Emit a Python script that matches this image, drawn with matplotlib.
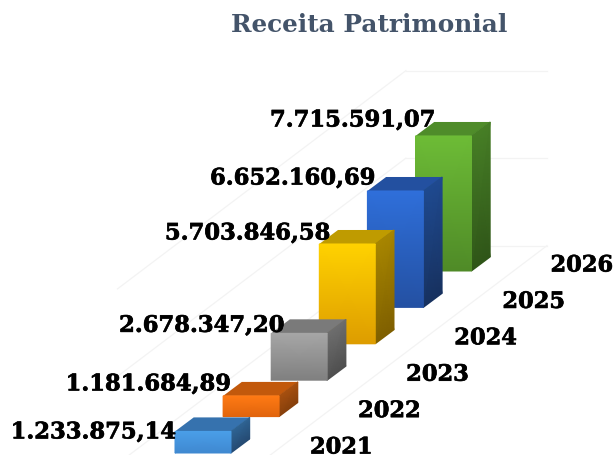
import matplotlib
matplotlib.use('Agg')
import matplotlib.pyplot as plt
import matplotlib.patches as patches
import matplotlib.patheffects as pe
import numpy as np
from matplotlib.colors import LinearSegmentedColormap

# Chart data
years = ['2021', '2022', '2023', '2024', '2025', '2026']
values = [1233875.14, 1181684.89, 2678347.20, 5703846.58, 6652160.69, 7715591.07]
value_labels = ['1.233.875,14', '1.181.684,89', '2.678.347,20', '5.703.846,58', '6.652.160,69', '7.715.591,07']
grid_values = [0, 5000000, 10000000]

# Colours per bar: front top, front bottom, top face, side top, side bottom
front_top = ['#4a9fe8', '#ff7a14', '#a6a6a6', '#ffd200', '#2f6fda', '#6dbc36']
front_bottom = ['#3f88d0', '#e0640c', '#7f7f7f', '#dd9c00', '#2450a2', '#4f8a27']
top_face = ['#3672ae', '#c2590c', '#7a7a7a', '#bf9b00', '#2350a0', '#4f8c2a']
side_top = ['#2f6494', '#a8500f', '#6e6e6e', '#a88600', '#1f4a90', '#477f26']
side_bottom = ['#254a72', '#86400c', '#4f4f4f', '#7f5f00', '#17315f', '#2f5518']

# Fake 3D layout, all in pixels of the 614x455 figure
X0, Y0 = 175, 453
STEP_X, STEP_Y = 48.1, 36.4
BAR_W = 56
DEPTH_X, DEPTH_Y = 18.7, 14
PX_PER_UNIT = 17.5e-6

# Nudges for the value labels, from the front top left corner of each bar
label_dx = [1, 8, 13, 11, 8, 20]
label_dy = [1, -11.5, -7.5, -10.5, -12.5, -15.5]

# Bold text gets a thin outline, the reference font is heavier than DejaVu Serif
heavy = [pe.withStroke(linewidth=0.5, foreground='black')]


def project(pos, value=0, across=0, depth=0):
    x = X0 + STEP_X * pos + BAR_W * across + DEPTH_X * depth
    y = Y0 - STEP_Y * pos - PX_PER_UNIT * value - DEPTH_Y * depth
    return x, y


def gradient_quad(axis, low_a, low_b, high_b, high_a, color_high, color_low, zorder):
    # Top to bottom gradient on a four cornered face
    t = np.linspace(0, 1, 2).reshape(-1, 1)
    low_a, low_b, high_a, high_b = map(np.array, (low_a, low_b, high_a, high_b))
    xx = np.hstack([high_a[0] + t * (low_a[0] - high_a[0]), high_b[0] + t * (low_b[0] - high_b[0])])
    yy = np.hstack([high_a[1] + t * (low_a[1] - high_a[1]), high_b[1] + t * (low_b[1] - high_b[1])])
    cc = np.hstack([t, t])
    cmap = LinearSegmentedColormap.from_list('g', [color_high, color_low])
    axis.pcolormesh(xx, yy, cc, cmap=cmap, vmin=0, vmax=1, shading='gouraud', zorder=zorder)


fig = plt.figure(figsize=(6.14, 4.55), dpi=100, facecolor='white')
ax = fig.add_axes([0, 0, 1, 1])
ax.axis('off')

# Back wall and side wall grid lines
GRID_COLOR = '#f3f3f3'
for g in grid_values:
    back_left = project(5.695, g, -0.77)
    back_right = project(5.695, g, 1.75)
    front_left = project(-0.3, g, -0.77)
    ax.plot([back_left[0], back_right[0]], [back_left[1], back_right[1]], color=GRID_COLOR, lw=0.9, zorder=1)
    ax.plot([back_left[0], front_left[0]], [back_left[1], front_left[1]], color=GRID_COLOR, lw=0.9, zorder=1)
floor_back = project(5.695, 0, 1.75)
floor_front = project(-0.3, 0, 1.75)
ax.plot([floor_back[0], floor_front[0]], [floor_back[1], floor_front[1]], color=GRID_COLOR, lw=0.9, zorder=1)

# Bars, back to front
for i in reversed(range(len(years))):
    z = 10 + (len(years) - i) * 2
    val = values[i]
    bl = project(i, 0, 0)
    br = project(i, 0, 1)
    tl = project(i, val, 0)
    tr = project(i, val, 1)
    top_bl = project(i, val, 0, 1)
    top_br = project(i, val, 1, 1)
    side_b = project(i, 0, 1, 1)
    ax.add_patch(patches.Polygon([tl, tr, top_br, top_bl], closed=True, facecolor=top_face[i], edgecolor='none', zorder=z))
    gradient_quad(ax, br, side_b, top_br, tr, side_top[i], side_bottom[i], z)
    gradient_quad(ax, bl, br, tr, tl, front_top[i], front_bottom[i], z + 1)

# Value labels
for i in range(len(years)):
    x, y = project(i, values[i], 0)
    ax.text(x + label_dx[i], y + label_dy[i], value_labels[i], ha='right', va='center', fontsize=16.3,
            family='DejaVu Serif', fontweight='bold', color='black', zorder=40, path_effects=heavy)

# Year labels along the floor
for i in range(len(years)):
    x, y = project(i, 0, 0)
    ax.text(x + 135, y + 0.5, years[i], ha='left', va='baseline', fontsize=16.2,
            family='DejaVu Serif', fontweight='bold', color='black', zorder=40, path_effects=heavy)

# Title
ax.text(369, 25, 'Receita Patrimonial', ha='center', va='center', fontsize=17.8,
        family='DejaVu Serif', fontweight='bold', color='#44546a')

ax.set_xlim(0, 614)
ax.set_ylim(455, 0)

fig.savefig('out.png', dpi=100)
